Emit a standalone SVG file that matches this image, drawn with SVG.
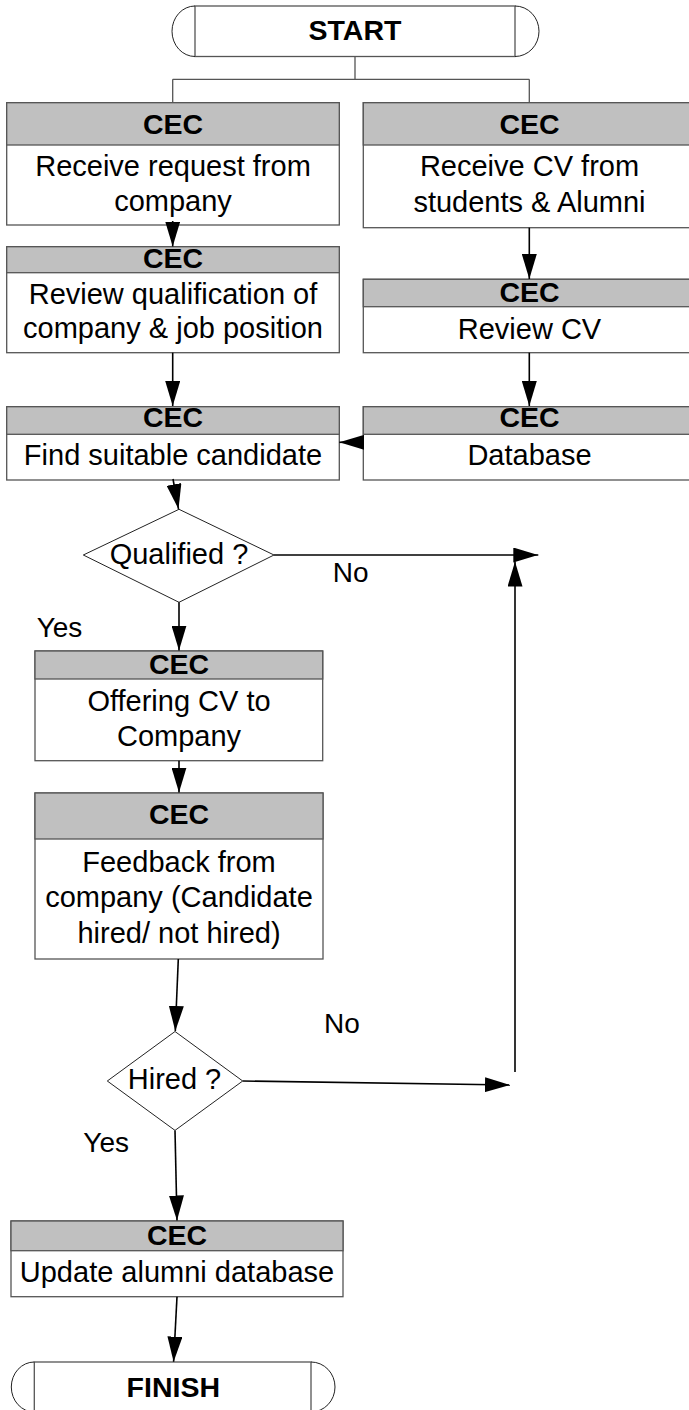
<svg xmlns="http://www.w3.org/2000/svg" width="689" height="1410" viewBox="0 0 689 1410">
<style>
.box{fill:#fff;stroke:#555;stroke-width:1.3}
.hdr{fill:#c0c0c0;stroke:#555;stroke-width:1.3}
.arc{fill:none;stroke:#222;stroke-width:1}
.dia{fill:#fff;stroke:#222;stroke-width:1}
.t{font-family:"Liberation Sans",Arial,sans-serif;font-size:29px;fill:#000;text-anchor:middle}
.b{font-family:"Liberation Sans",Arial,sans-serif;font-size:28.5px;font-weight:bold;fill:#000;text-anchor:middle}
.lbl{font-family:"Liberation Sans",Arial,sans-serif;font-size:28px;fill:#000}
.c{fill:none;stroke:#000;stroke-width:1.6}
.split{fill:none;stroke:#555;stroke-width:1.3}
</style>
<defs>
<marker id="ah" markerUnits="userSpaceOnUse" markerWidth="25" markerHeight="15" refX="25" refY="7.5" orient="auto">
<path d="M0,0 L25,7.5 L0,15 z" fill="#000"/>
</marker>
</defs>

<g id="start">
<rect class="box" x="195" y="6" width="320" height="50.5"/>
<path class="arc" d="M195,6 A23,25.25 0 0 0 195,56.5"/>
<path class="arc" d="M515,6 A24,25.25 0 0 1 515,56.5"/>
<text class="b" x="355" y="39.5">START</text>
</g>

<g id="receive-request">
<rect class="box" x="6.7" y="102.7" width="332.6" height="122.3"/>
<rect class="hdr" x="6.7" y="102.7" width="332.6" height="42.3"/>
<text class="b" x="173" y="133.5">CEC</text>
<text class="t" x="173" y="176">Receive request from</text>
<text class="t" x="173" y="210.5">company</text>
</g>

<g id="receive-cv">
<rect class="box" x="363.3" y="102.7" width="332.4" height="125"/>
<rect class="hdr" x="363.3" y="102.7" width="332.4" height="42.3"/>
<text class="b" x="529.5" y="133.5">CEC</text>
<text class="t" x="529.5" y="176">Receive CV from</text>
<text class="t" x="529.5" y="212">students &amp; Alumni</text>
</g>

<g id="review-qualification">
<rect class="box" x="6.7" y="246.7" width="332.6" height="106"/>
<rect class="hdr" x="6.7" y="246.7" width="332.6" height="26"/>
<text class="b" x="173" y="267.5">CEC</text>
<text class="t" x="173" y="303.5">Review qualification of</text>
<text class="t" x="173" y="337.5">company &amp; job position</text>
</g>

<g id="review-cv">
<rect class="box" x="363.3" y="279.3" width="332.4" height="73.4"/>
<rect class="hdr" x="363.3" y="279.3" width="332.4" height="27.4"/>
<text class="b" x="529.5" y="301.7">CEC</text>
<text class="t" x="529.5" y="338.5">Review CV</text>
</g>

<g id="find-candidate">
<rect class="box" x="6.7" y="406.7" width="332.6" height="73.3"/>
<rect class="hdr" x="6.7" y="406.7" width="332.6" height="27.6"/>
<text class="b" x="173" y="427">CEC</text>
<text class="t" x="173" y="465">Find suitable candidate</text>
</g>

<g id="database">
<rect class="box" x="363.3" y="406.7" width="332.4" height="73.3"/>
<rect class="hdr" x="363.3" y="406.7" width="332.4" height="27.6"/>
<text class="b" x="529.5" y="427">CEC</text>
<text class="t" x="529.5" y="465">Database</text>
</g>

<g id="qualified">
<polygon class="dia" points="179,509.3 274,555 179,602.3 83.3,555"/>
<text class="t" x="179" y="563.5">Qualified ?</text>
</g>

<g id="offering-cv">
<rect class="box" x="35" y="651" width="287.7" height="109.7"/>
<rect class="hdr" x="35" y="651" width="287.7" height="28"/>
<text class="b" x="179" y="673.5">CEC</text>
<text class="t" x="179" y="711">Offering CV to</text>
<text class="t" x="179" y="745.7">Company</text>
</g>

<g id="feedback">
<rect class="box" x="35" y="793" width="288" height="166"/>
<rect class="hdr" x="35" y="793" width="288" height="46"/>
<text class="b" x="179" y="824">CEC</text>
<text class="t" x="179" y="872.3">Feedback from</text>
<text class="t" x="179" y="907">company (Candidate</text>
<text class="t" x="179" y="942.5">hired/ not hired)</text>
</g>

<g id="hired">
<polygon class="dia" points="175,1031.5 242.7,1081 175,1130.4 107.3,1081"/>
<text class="t" x="174.5" y="1089">Hired ?</text>
</g>

<g id="update-database">
<rect class="box" x="11" y="1221" width="332" height="75.7"/>
<rect class="hdr" x="11" y="1221" width="332" height="29.7"/>
<text class="b" x="177" y="1245">CEC</text>
<text class="t" x="177" y="1282">Update alumni database</text>
</g>

<g id="finish">
<rect class="box" x="34.3" y="1362" width="276.7" height="50"/>
<path class="arc" d="M34.3,1362 A23,25 0 0 0 34.3,1412"/>
<path class="arc" d="M311,1362 A24,25 0 0 1 311,1412"/>
<text class="b" x="173.3" y="1396.5">FINISH</text>
</g>

<g id="connectors">
<path class="split" d="M355,56.5 V79.3 M172.7,79.3 H529.3 M172.7,79.3 V102.7 M529.3,79.3 V102.7"/>
<line class="c" x1="172.7" y1="221" x2="172.7" y2="246.5" marker-end="url(#ah)"/>
<line class="c" x1="529.3" y1="227.7" x2="529.3" y2="279" marker-end="url(#ah)"/>
<line class="c" x1="172.7" y1="352.7" x2="172.7" y2="406" marker-end="url(#ah)"/>
<line class="c" x1="529.3" y1="352.7" x2="529.3" y2="406" marker-end="url(#ah)"/>
<line class="c" x1="363.3" y1="442.3" x2="339.3" y2="442.3" marker-end="url(#ah)"/>
<line class="c" x1="173" y1="479" x2="178.5" y2="509" marker-end="url(#ah)"/>
<line class="c" x1="274" y1="555" x2="538.3" y2="555" marker-end="url(#ah)"/>
<line class="c" x1="179" y1="602.3" x2="179" y2="650.5" marker-end="url(#ah)"/>
<line class="c" x1="179" y1="760.7" x2="179" y2="792.5" marker-end="url(#ah)"/>
<line class="c" x1="178.3" y1="959" x2="175.3" y2="1031" marker-end="url(#ah)"/>
<line class="c" x1="242.7" y1="1081" x2="510" y2="1085" marker-end="url(#ah)"/>
<line class="c" x1="515" y1="1072" x2="515" y2="561.6" marker-end="url(#ah)"/>
<line class="c" x1="175" y1="1130.4" x2="177" y2="1220.5" marker-end="url(#ah)"/>
<line class="c" x1="177" y1="1296.7" x2="173.6" y2="1361.7" marker-end="url(#ah)"/>
<text class="lbl" x="332.7" y="582">No</text>
<text class="lbl" x="36.7" y="636.7">Yes</text>
<text class="lbl" x="324" y="1033">No</text>
<text class="lbl" x="83.3" y="1152">Yes</text>
</g>
</svg>
